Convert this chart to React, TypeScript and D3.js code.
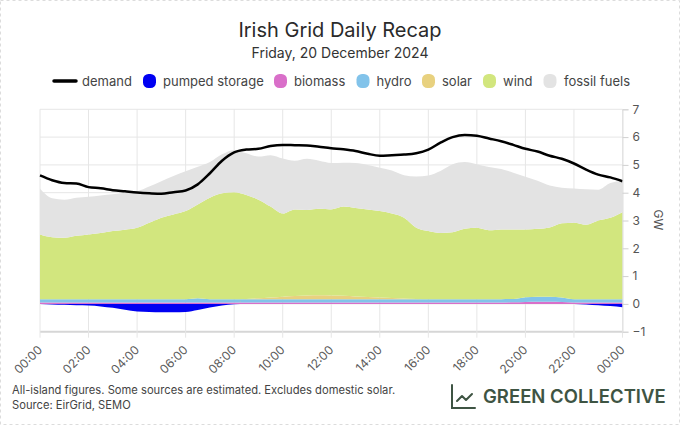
import { useEffect, useRef } from "react";
import * as d3 from "d3";

// half-hourly readings, 00:00 -> 24:00 (GW)
const demand = [
  4.62, 4.45, 4.35, 4.33, 4.2, 4.16, 4.09, 4.05, 4.01, 3.98, 3.96, 4.02, 4.08, 4.3, 4.7, 5.15, 5.45,
  5.55, 5.58, 5.68, 5.72, 5.71, 5.7, 5.65, 5.6, 5.56, 5.5, 5.4, 5.33, 5.35, 5.37, 5.42, 5.55, 5.8,
  6.0, 6.08, 6.05, 5.95, 5.85, 5.72, 5.58, 5.48, 5.33, 5.22, 5.05, 4.83, 4.65, 4.55, 4.41,
];
const pumpedStorage = [
  0, -0.02, -0.03, -0.05, -0.06, -0.09, -0.14, -0.21, -0.27, -0.29, -0.3, -0.3, -0.29, -0.22, -0.13,
  -0.06, -0.01, 0, 0, 0, 0, 0, 0, 0, 0, 0, 0, 0, 0, 0, 0, 0, 0, 0, 0, 0, 0, 0, 0, 0, 0, 0, 0, 0, 0,
  -0.02, -0.05, -0.08, -0.12,
];
const biomass = [
  0.05, 0.05, 0.05, 0.05, 0.05, 0.05, 0.05, 0.05, 0.05, 0.05, 0.05, 0.05, 0.05, 0.05, 0.05, 0.05,
  0.05, 0.05, 0.05, 0.05, 0.05, 0.05, 0.05, 0.05, 0.05, 0.05, 0.05, 0.05, 0.05, 0.05, 0.05, 0.05,
  0.05, 0.05, 0.05, 0.05, 0.05, 0.05, 0.05, 0.06, 0.07, 0.08, 0.08, 0.07, 0.05, 0.05, 0.05, 0.05,
  0.05,
];
const hydro = [
  0.12, 0.12, 0.12, 0.12, 0.12, 0.12, 0.12, 0.12, 0.12, 0.12, 0.12, 0.12, 0.12, 0.15, 0.12, 0.12,
  0.12, 0.12, 0.12, 0.12, 0.12, 0.12, 0.12, 0.12, 0.12, 0.12, 0.12, 0.12, 0.12, 0.12, 0.12, 0.12,
  0.12, 0.12, 0.12, 0.12, 0.12, 0.12, 0.12, 0.12, 0.17, 0.18, 0.18, 0.16, 0.12, 0.12, 0.12, 0.12,
  0.12,
];
const solar = [
  0, 0, 0, 0, 0, 0, 0, 0, 0, 0, 0, 0, 0, 0, 0, 0, 0, 0.01, 0.03, 0.06, 0.09, 0.11, 0.13, 0.14, 0.13,
  0.12, 0.1, 0.08, 0.06, 0.04, 0.02, 0.01, 0, 0, 0, 0, 0, 0, 0, 0, 0, 0, 0, 0, 0, 0, 0, 0, 0,
];
const wind = [
  2.33, 2.23, 2.21, 2.28, 2.33, 2.38, 2.45, 2.5, 2.57, 2.75, 2.93, 3.05, 3.17, 3.38, 3.65, 3.81, 3.85,
  3.74, 3.55, 3.27, 2.99, 3.12, 3.08, 3.11, 3.1, 3.21, 3.18, 3.15, 3.11, 3.04, 2.91, 2.56, 2.45, 2.38,
  2.41, 2.53, 2.57, 2.48, 2.51, 2.5, 2.44, 2.44, 2.49, 2.67, 2.75, 2.68, 2.83, 2.93, 3.13,
];
const fossilFuels = [
  1.64, 1.4, 1.37, 1.37, 1.35, 1.35, 1.32, 1.33, 1.31, 1.3, 1.31, 1.38, 1.43, 1.35, 1.28, 1.4, 1.51,
  1.5, 1.55, 1.85, 1.98, 1.75, 1.84, 1.73, 1.67, 1.58, 1.62, 1.6, 1.56, 1.55, 1.53, 1.84, 2.0, 2.23,
  2.44, 2.4, 2.28, 2.27, 2.17, 2.04, 1.89, 1.73, 1.51, 1.28, 1.23, 1.27, 1.11, 1.25, 1.12,
];

const yTicks = [-1, 0, 1, 2, 3, 4, 5, 6, 7];

const sources = [
  { key: "pumped", label: "pumped storage", color: "#0000f2", values: pumpedStorage },
  { key: "biomass", label: "biomass", color: "#d96fc9", values: biomass },
  { key: "hydro", label: "hydro", color: "#82c3ea", values: hydro },
  { key: "solar", label: "solar", color: "#e8d17f", values: solar },
  { key: "wind", label: "wind", color: "#d2e67e", values: wind },
  { key: "fossil", label: "fossil fuels", color: "#e3e3e3", values: fossilFuels },
];

// legend x positions (marker centre, text start)
const legendPos = [
  [149.5, 163],
  [280.5, 294],
  [363, 376.5],
  [428.5, 442],
  [489.5, 503],
  [550, 564],
];

const W = 680;
const H = 425;
const FONT = "Inter, 'Noto Sans', sans-serif";

const App = () => {
  const svgRef = useRef<SVGSVGElement | null>(null);

  useEffect(() => {
    if (!svgRef.current) return;
    const svg = d3.select(svgRef.current);
    svg.selectAll("*").remove();

    const times = demand.map((_, i) => new Date(2024, 11, 20, 0, i * 30));
    const rows = times.map((t, i) => {
      const r: any = { time: t };
      sources.forEach((s) => (r[s.key] = s.values[i]));
      return r;
    });

    const x = d3
      .scaleTime()
      .domain([new Date(2024, 11, 20), new Date(2024, 11, 21)])
      .range([40, 622.5]);
    const y = d3.scaleLinear().domain([-1, 7]).range([331.7, 109.3]);

    // frame
    svg
      .append("rect")
      .attr("x", 0.5)
      .attr("y", 0.5)
      .attr("width", W - 1)
      .attr("height", H - 1)
      .attr("fill", "#fff")
      .attr("stroke", "#dcdcdc")
      .attr("stroke-dasharray", "3,3");

    // grid
    const grid = svg.append("g");
    grid
      .selectAll("line.h")
      .data(yTicks)
      .enter()
      .append("line")
      .attr("x1", 40)
      .attr("x2", 622.5)
      .attr("y1", (d) => y(d))
      .attr("y2", (d) => y(d))
      .attr("stroke", (d) => (d === -1 ? "#d6d6d6" : "#e6e6e6"))
      .attr("stroke-width", (d) => (d === -1 ? 2 : 1));
    const xTicks = x.ticks(d3.timeHour.every(2)!);
    grid
      .selectAll("line.v")
      .data(xTicks)
      .enter()
      .append("line")
      .attr("x1", (d) => x(d))
      .attr("x2", (d) => x(d))
      .attr("y1", y(7))
      .attr("y2", y(-1) + 6)
      .attr("stroke", "#e6e6e6");

    // stacked areas
    const stack = d3
      .stack<any>()
      .keys(sources.map((s) => s.key))
      .offset(d3.stackOffsetDiverging);
    const series = stack(rows);
    const area = d3
      .area<any>()
      .x((d) => x(d.data.time))
      .y0((d) => y(d[0]))
      .y1((d) => y(d[1]))
      .curve(d3.curveMonotoneX);

    svg
      .append("g")
      .selectAll("path")
      .data(series)
      .enter()
      .append("path")
      .attr("fill", (d, i) => sources[i].color)
      .attr("d", area as any);

    // demand line
    const line = d3
      .line<number>()
      .x((_, i) => x(times[i]))
      .y((d) => y(d))
      .curve(d3.curveMonotoneX);
    svg
      .append("path")
      .datum(demand)
      .attr("fill", "none")
      .attr("stroke", "#000")
      .attr("stroke-width", 2.5)
      .attr("d", line as any);

    // y axis on the right
    const yAxis = svg
      .append("g")
      .attr("transform", "translate(622.5,0)")
      .call(d3.axisRight(y).tickValues(yTicks).tickSize(6).tickPadding(4));
    yAxis.select(".domain").attr("stroke", "#e0e0e0");
    yAxis.selectAll(".tick line").attr("stroke", "#d0d0d0");
    yAxis
      .selectAll("text")
      .style("font-family", FONT)
      .style("font-size", "12px")
      .attr("fill", "#555");

    svg
      .append("text")
      .attr("transform", "translate(654,220) rotate(90)")
      .attr("text-anchor", "middle")
      .style("font-family", FONT)
      .style("font-size", "12px")
      .attr("fill", "#555")
      .text("GW");

    // x labels
    svg
      .append("g")
      .selectAll("text")
      .data(xTicks)
      .enter()
      .append("text")
      .attr("transform", (d) => `translate(${x(d) + 3},${y(-1) + 19}) rotate(-45)`)
      .attr("text-anchor", "end")
      .style("font-family", FONT)
      .style("font-size", "12px")
      .attr("fill", "#5a5a5a")
      .text((d) => d3.timeFormat("%H:%M")(d));

    // titles
    svg
      .append("text")
      .attr("x", W / 2)
      .attr("y", 36.5)
      .attr("text-anchor", "middle")
      .style("font-family", FONT)
      .style("font-size", "20px")
      .attr("fill", "#2a2a2a")
      .text("Irish Grid Daily Recap");
    svg
      .append("text")
      .attr("x", W / 2)
      .attr("y", 57.5)
      .attr("text-anchor", "middle")
      .style("font-family", FONT)
      .style("font-size", "14px")
      .attr("fill", "#333")
      .text("Friday, 20 December 2024");

    // legend
    const legend = svg.append("g").style("font-family", FONT).style("font-size", "13px");
    legend
      .append("line")
      .attr("x1", 54)
      .attr("x2", 76)
      .attr("y1", 81)
      .attr("y2", 81)
      .attr("stroke", "#000")
      .attr("stroke-width", 3.5)
      .attr("stroke-linecap", "round");
    legend.append("text").attr("x", 82).attr("y", 85.5).attr("fill", "#444").text("demand");
    sources.forEach((s, i) => {
      const [cx, tx] = legendPos[i];
      legend
        .append("rect")
        .attr("x", cx - 6.5)
        .attr("y", 74)
        .attr("width", 13)
        .attr("height", 14)
        .attr("rx", 5.5)
        .attr("fill", s.color);
      legend.append("text").attr("x", tx).attr("y", 85.5).attr("fill", "#444").text(s.label);
    });

    // footer
    const foot = svg.append("g").style("font-family", FONT).style("font-size", "11.2px").attr("fill", "#444");
    foot.append("text").attr("x", 12).attr("y", 394).text("All-island figures. Some sources are estimated. Excludes domestic solar.");
    foot.append("text").attr("x", 12).attr("y", 409).text("Source: EirGrid, SEMO");

    // logo
    const logo = svg.append("g").attr("stroke", "#3e5443").attr("fill", "none").attr("stroke-width", 2);
    logo.append("path").attr("d", "M452,385 V408 H475").attr("stroke-linecap", "round");
    logo
      .append("path")
      .attr("d", "M457,401 L462,396 L466,400 L472,394")
      .attr("stroke-linecap", "round")
      .attr("stroke-linejoin", "round");
    svg
      .append("text")
      .attr("x", 483)
      .attr("y", 403)
      .style("font-family", FONT)
      .style("font-size", "18.5px")
      .style("font-weight", 600)
      .attr("fill", "#3e5443")
      .text("GREEN COLLECTIVE");
  }, []);

  return (
    <div style={{ position: "absolute", left: 0, top: 0 }}>
      <svg ref={svgRef} width={W} height={H} style={{ display: "block" }}></svg>
    </div>
  );
};

export default App;
